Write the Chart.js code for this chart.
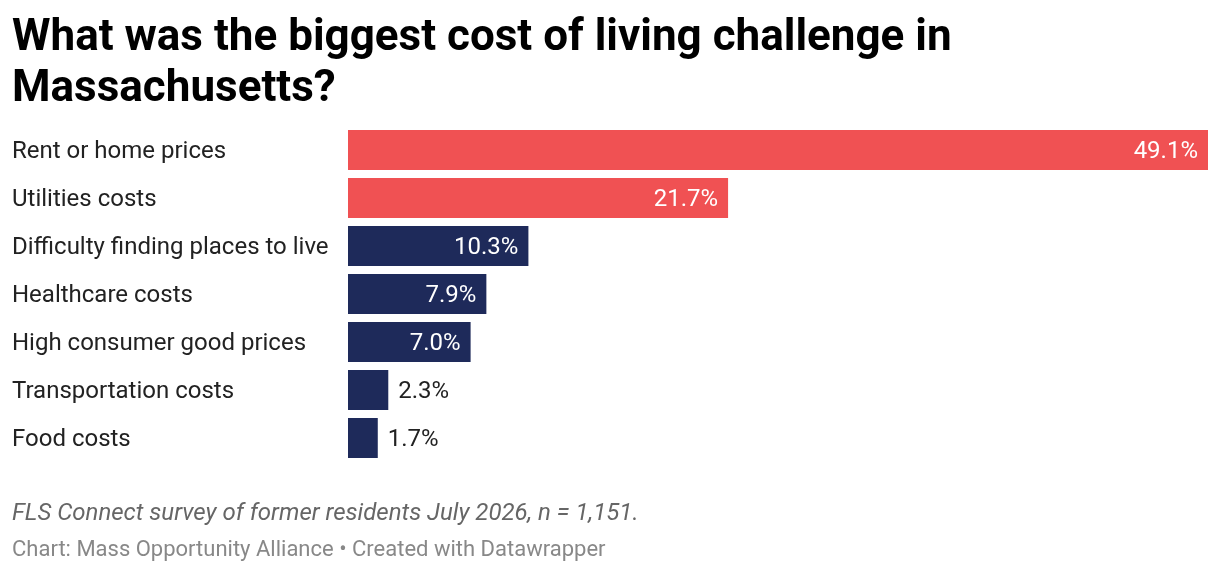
<!DOCTYPE html>
<html><head><meta charset="utf-8">
<script src="https://cdn.jsdelivr.net/npm/chart.js@4"></script>
<style>
body{margin:0;background:#fff;font-family:Roboto,sans-serif;}
#wrap{position:relative;width:1220px;height:572px;overflow:hidden;}
#title{position:absolute;left:12px;top:10px;font-weight:700;font-size:44px;line-height:51px;color:#000;z-index:2;white-space:nowrap;}
#note{position:absolute;left:12px;top:498px;font-style:italic;font-size:24px;line-height:28px;color:#666;z-index:2;white-space:nowrap;}
#credit{position:absolute;left:12px;top:536px;font-size:22px;line-height:26px;color:#888;z-index:2;white-space:nowrap;}
#cw{position:absolute;left:0;top:0;width:1220px;height:572px;}
</style>
</head><body>
<div id="wrap">
<div id="title">What was the biggest cost of living challenge in<br>Massachusetts?</div>
<div id="cw"><canvas id="c"></canvas></div>
<div id="note">FLS Connect survey of former residents July 2026, n = 1,151.</div>
<div id="credit">Chart: Mass Opportunity Alliance • Created with Datawrapper</div>
</div>
<script>
const categories = ["Rent or home prices","Utilities costs","Difficulty finding places to live","Healthcare costs","High consumer good prices","Transportation costs","Food costs"];
const values = [49.1, 21.7, 10.3, 7.9, 7.0, 2.3, 1.7];
const highlighted = [true, true, false, false, false, false, false];

const RED = '#f05153', NAVY = '#1e2a5a';
const barColors = highlighted.map(h => h ? RED : NAVY);

const labelsPlugin = {
  id: 'labelsPlugin',
  afterDatasetsDraw(chart) {
    const ctx = chart.ctx;
    const meta = chart.getDatasetMeta(0);
    const yScale = chart.scales.y;
    ctx.save();
    ctx.font = '24px Roboto, sans-serif';
    ctx.textBaseline = 'middle';
    // category labels
    ctx.fillStyle = '#222';
    ctx.textAlign = 'left';
    categories.forEach((c, i) => {
      ctx.fillText(c, yScale.left, yScale.getPixelForTick(i) + 2);
    });
    // value labels
    meta.data.forEach((bar, i) => {
      const txt = values[i].toFixed(1) + '%';
      const w = ctx.measureText(txt).width;
      const bw = bar.x - bar.base;
      if (w + 20 < bw) {
        ctx.fillStyle = '#fff';
        ctx.textAlign = 'right';
        ctx.fillText(txt, bar.x - 10, bar.y + 2);
      } else {
        ctx.fillStyle = '#222';
        ctx.textAlign = 'left';
        ctx.fillText(txt, bar.x + 10, bar.y + 2);
      }
    });
    ctx.restore();
  }
};

new Chart(document.getElementById('c'), {
  type: 'bar',
  data: {
    labels: categories,
    datasets: [{
      data: values,
      backgroundColor: barColors,
      borderWidth: 0,
      barPercentage: 40/48,
      categoryPercentage: 1
    }]
  },
  options: {
    indexAxis: 'y',
    responsive: true,
    maintainAspectRatio: false,
    animation: false,
    layout: { padding: { left: 12, right: 12, top: 126, bottom: 110 } },
    plugins: { legend: { display: false }, tooltip: { enabled: false } },
    scales: {
      x: { display: false, min: 0, max: 49.1 },
      y: {
        grid: { display: false },
        border: { display: false },
        ticks: { display: false },
        afterFit(s) { s.width = 336; }
      }
    }
  },
  plugins: [labelsPlugin]
});
</script>
</body></html>
